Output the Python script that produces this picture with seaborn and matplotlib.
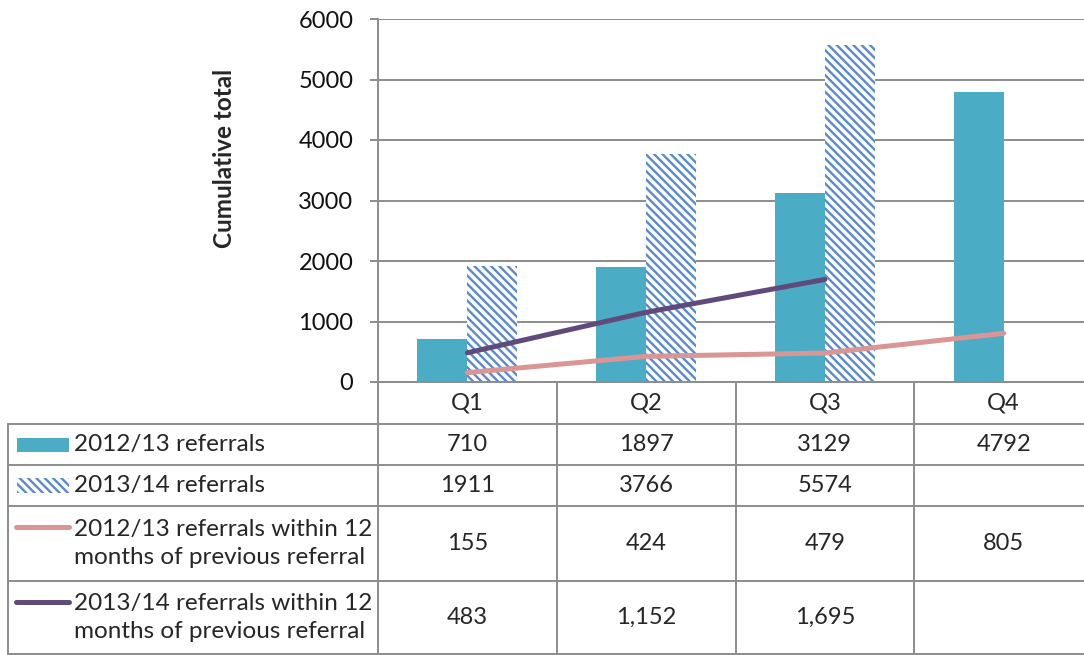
import numpy as np
import pandas as pd
import seaborn as sns
import matplotlib.pyplot as plt
from matplotlib.patches import Rectangle
from matplotlib.lines import Line2D
from matplotlib.transforms import blended_transform_factory

quarters = ['Q1', 'Q2', 'Q3', 'Q4']
referrals_1213 = [710, 1897, 3129, 4792]
referrals_1314 = [1911, 3766, 5574]
within12_1213 = [155, 424, 479, 805]
within12_1314 = [483, 1152, 1695]

bar_names = ['2012/13 referrals', '2013/14 referrals']
line_names = ['2012/13 referrals within 12\nmonths of previous referral',
              '2013/14 referrals within 12\nmonths of previous referral']
y_ticks = [0, 1000, 2000, 3000, 4000, 5000, 6000]

cyan = '#4BACC6'
hatch_blue = '#5A8ACB'
pink = '#D99694'
purple = '#604A7B'
grid_col = '#8C8C8C'
fs = 17

sns.set_style('white')
plt.rcParams['font.family'] = ['Lato', 'DejaVu Sans']
plt.rcParams['hatch.linewidth'] = 1.7
plt.rcParams['hatch.color'] = hatch_blue

W, H = 1084, 655
fig = plt.figure(figsize=(W / 100, H / 100), dpi=100)


def px(x):
    return x / W


def py(y):
    return 1 - y / H


ax = fig.add_axes([px(378), py(382), px(1093) - px(378), py(19) - py(382)])

bars = pd.DataFrame({
    'quarter': quarters + quarters[:len(referrals_1314)],
    'series': [bar_names[0]] * len(referrals_1213) + [bar_names[1]] * len(referrals_1314),
    'value': referrals_1213 + referrals_1314,
})
sns.barplot(data=bars, x='quarter', y='value', hue='series', order=quarters,
            hue_order=bar_names, palette=[cyan, cyan], width=0.56,
            saturation=1, legend=False, ax=ax, linewidth=0)

hatch = '\\' * 4
for p in ax.containers[1]:
    p.set_facecolor('white')
    p.set_edgecolor(hatch_blue)
    p.set_hatch(hatch)
    p.set_linewidth(0)

sns.lineplot(x=np.arange(len(within12_1213)), y=within12_1213, color=pink,
             linewidth=3.6, solid_capstyle='round', ax=ax, legend=False)
sns.lineplot(x=np.arange(len(within12_1314)), y=within12_1314, color=purple,
             linewidth=3.6, solid_capstyle='round', ax=ax, legend=False)

ax.set_xlim(-0.5, len(quarters) - 0.5)
ax.set_ylim(0, 6000)
ax.set_yticks(y_ticks)
ax.set_xticks([])
ax.set_xlabel('')
ax.set_ylabel('')
ax.yaxis.grid(True, color=grid_col, linewidth=1.4)
ax.set_axisbelow(True)
for s in ['top', 'right']:
    ax.spines[s].set_visible(False)
for s in ['left', 'bottom']:
    ax.spines[s].set_color(grid_col)
    ax.spines[s].set_linewidth(1.4)
ax.tick_params(axis='y', left=True, direction='out', length=5.8, width=1.4,
               color=grid_col, pad=12, labelsize=fs, labelcolor='#111111')

fig.text(px(225), py(158), 'Cumulative total', rotation=90, ha='center',
         va='center', fontsize=17.5, fontweight='bold')

# data table below the plot
tr = blended_transform_factory(ax.transData, fig.transFigure)
row_edges = [382, 424, 465, 506, 581, 654]
for i in range(len(quarters) + 1):
    fig.add_artist(Line2D([i - 0.5, i - 0.5], [py(382), py(654)], transform=tr,
                          color=grid_col, lw=1.4))
fig.add_artist(Line2D([px(8), px(8)], [py(424), py(654)],
                      transform=fig.transFigure, color=grid_col, lw=1.4))
for y in row_edges[1:]:
    fig.add_artist(Line2D([px(8), 1], [py(y), py(y)],
                          transform=fig.transFigure, color=grid_col, lw=1.4))

row_vals = [referrals_1213, referrals_1314, within12_1213, within12_1314]
row_fmt = ['{}', '{}', '{}', '{:,}']
centers = [(row_edges[k] + row_edges[k + 1]) / 2 for k in range(len(row_edges) - 1)]

for i, q in enumerate(quarters):
    fig.text(i, py(centers[0]), q, transform=tr, ha='center', va='center',
             fontsize=fs)
for r, (vals, fmt) in enumerate(zip(row_vals, row_fmt)):
    for i, v in enumerate(vals):
        fig.text(i, py(centers[r + 1]), fmt.format(v), transform=tr,
                 ha='center', va='center', fontsize=fs)

labels = bar_names + line_names
for r, lab in enumerate(labels):
    fig.text(px(74), py(centers[r + 1]), lab, ha='left', va='center',
             fontsize=17.5, linespacing=1.38)

# legend keys
fig.add_artist(Rectangle((px(17), py(452)), px(69) - px(17), py(438) - py(452),
                         transform=fig.transFigure, facecolor=cyan, lw=0))
fig.add_artist(Rectangle((px(17), py(493)), px(69) - px(17), py(478) - py(493),
                         transform=fig.transFigure, facecolor='white',
                         edgecolor=hatch_blue, hatch=hatch, lw=0))
for c, y in [(pink, 527), (purple, 602)]:
    fig.add_artist(Line2D([px(16), px(69)], [py(y), py(y)],
                          transform=fig.transFigure, color=c, lw=3.6,
                          solid_capstyle='round'))

fig.savefig('out.png', dpi=100)
